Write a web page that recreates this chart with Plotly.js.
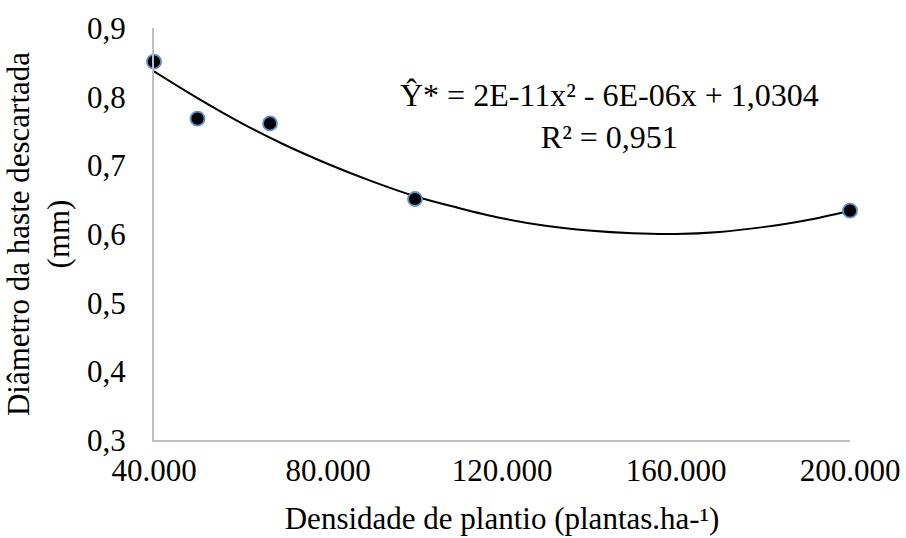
<!DOCTYPE html>
<html>
<head>
<meta charset="utf-8">
<script src="https://cdn.plot.ly/plotly-3.0.1.min.js"></script>
<style>html,body{margin:0;padding:0;background:#fff;}#chart{width:906px;height:538px;}</style>
</head>
<body>
<div id="chart"></div>
<script>
// Observed points
var density = [40000, 50000, 66667, 100000, 200000];
var diameter = [0.851, 0.768, 0.761, 0.651, 0.634];
// Trendline
var trendX = [40000, 50000, 60000, 70000, 80000, 90000, 100000, 110000, 120000, 130000, 140000, 150000, 160000, 170000, 180000, 190000, 200000];
var trendY = [0.837, 0.798, 0.762, 0.730, 0.702, 0.677, 0.655, 0.638, 0.623, 0.612, 0.605, 0.601, 0.600, 0.603, 0.610, 0.620, 0.634];
var xTicks = [40000, 80000, 120000, 160000, 200000];
var yTicks = [0.3, 0.4, 0.5, 0.6, 0.7, 0.8, 0.9];
var equationText = "Ŷ* = 2E-11x² - 6E-06x + 1,0304<br>R² = 0,951";
var xTitle = "Densidade de plantio (plantas.ha-¹)";
var yTitle = "Diâmetro da haste descartada<br>(mm)";

var font = "Liberation Serif";

var traces = [
  {
    x: trendX, y: trendY, type: 'scatter', mode: 'lines',
    line: {color: '#000000', width: 2, shape: 'spline', smoothing: 1},
    hoverinfo: 'skip', cliponaxis: false
  },
  {
    x: density, y: diameter, type: 'scatter', mode: 'markers',
    marker: {color: '#000000', size: 14, line: {color: '#5B8FD0', width: 1.8}},
    cliponaxis: false
  }
];

var layout = {
  width: 906, height: 538,
  margin: {l: 154, r: 56, t: 28, b: 98},
  paper_bgcolor: '#ffffff', plot_bgcolor: '#ffffff',
  showlegend: false,
  separators: ',.',
  font: {family: font, color: '#000000', size: 28},
  xaxis: {
    range: [40000, 200000],
    tickvals: xTicks,
    tickformat: ',d',
    showgrid: false, zeroline: false,
    showline: true, linecolor: '#BFBFBF', linewidth: 2,
    ticks: '', ticklabelstandoff: 2,
    tickfont: {family: font, size: 31, color: '#000000'},
    title: {text: xTitle, font: {family: font, size: 31, color: '#000000'}, standoff: 20}
  },
  yaxis: {
    range: [0.3, 0.9],
    tickvals: yTicks,
    tickformat: '.1f',
    showgrid: false, zeroline: false,
    showline: true, linecolor: '#BFBFBF', linewidth: 2,
    ticks: '', ticklabelstandoff: 20,
    tickfont: {family: font, size: 31, color: '#000000'},
    title: {text: yTitle, font: {family: font, size: 31, color: '#000000'}, standoff: 8}
  },
  annotations: [{
    xref: 'paper', yref: 'paper', x: 0.655, y: 0.787,
    xanchor: 'center', yanchor: 'middle', align: 'center',
    text: equationText, showarrow: false,
    font: {family: font, size: 32, color: '#000000'}
  }]
};

Plotly.newPlot('chart', traces, layout, {displayModeBar: false, staticPlot: true});
</script>
</body>
</html>
